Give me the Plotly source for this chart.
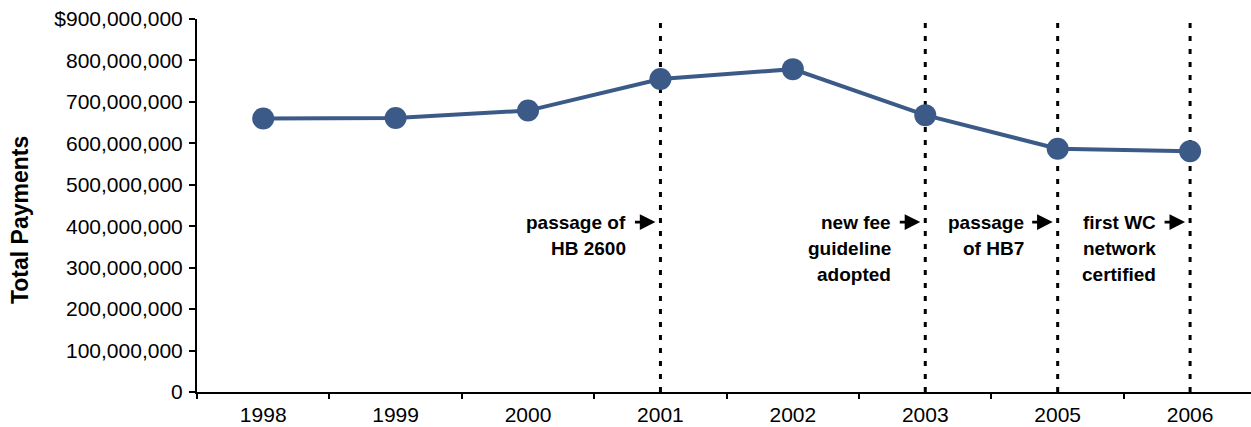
import plotly.graph_objects as go

# Annual totals
years = ["1998", "1999", "2000", "2001", "2002", "2003", "2005", "2006"]
payments = [660e6, 661e6, 679e6, 755e6, 779e6, 668e6, 587e6, 581e6]

# Y axis ticks
y_ticks = [0, 100e6, 200e6, 300e6, 400e6, 500e6, 600e6, 700e6, 800e6, 900e6]
y_tick_text = ["0", "100,000,000", "200,000,000", "300,000,000", "400,000,000",
               "500,000,000", "600,000,000", "700,000,000", "800,000,000",
               "$900,000,000"]

# Policy events marked with dotted lines
event_years = ["2001", "2003", "2005", "2006"]
event_labels = [
    ["passage of", "HB 2600"],
    ["new fee", "guideline", "adopted"],
    ["passage", "of HB7"],
    ["first WC", "network", "certified"],
]

LINE_COLOR = "#3C5A87"
LABEL_Y = 410e6

fig = go.Figure()
fig.add_trace(go.Scatter(
    x=years, y=payments, mode="lines+markers",
    line=dict(color=LINE_COLOR, width=4),
    marker=dict(color=LINE_COLOR, size=22),
    cliponaxis=False, hoverinfo="x+y",
))

for yr, lines in zip(event_years, event_labels):
    idx = years.index(yr)
    fig.add_shape(type="line", xref="x", yref="y", x0=idx, x1=idx,
                  y0=0, y1=900e6,
                  line=dict(color="black", width=3, dash="5px,8px"),
                  layer="below")
    fig.add_annotation(x=idx, y=LABEL_Y, xref="x", yref="y", text="",
                       showarrow=True, ax=-27, ay=0, axref="pixel", ayref="pixel",
                       arrowhead=2, arrowsize=1.2, arrowwidth=2.6,
                       arrowcolor="black", standoff=5)
    for i, txt in enumerate(lines):
        fig.add_annotation(x=idx, y=LABEL_Y, xref="x", yref="y", text=txt,
                           showarrow=False, xanchor="right", yanchor="middle",
                           xshift=-32, yshift=-26 * i,
                           font=dict(family="Liberation Sans", size=19,
                                     color="black", weight="bold"))

fig.add_annotation(xref="paper", yref="paper", x=0, y=0.461,
                   xshift=-177, text="<b>Total Payments</b>", textangle=-90,
                   showarrow=False, xanchor="center", yanchor="middle",
                   font=dict(family="Liberation Sans", size=23, color="black"))

fig.update_layout(
    width=1251, height=427,
    margin=dict(l=197, r=0, t=19, b=35),
    paper_bgcolor="white", plot_bgcolor="white",
    showlegend=False,
    font=dict(family="Liberation Sans", color="black"),
    xaxis=dict(type="category", categoryorder="array", categoryarray=years,
               range=[-0.5, 7.46], showline=True, linecolor="black",
               linewidth=2, ticks="outside", ticklen=5, tickwidth=1.5,
               tickcolor="black", tickson="boundaries", showgrid=False,
               zeroline=False, tickfont=dict(size=21), ticklabelstandoff=3,
               automargin=False),
    yaxis=dict(range=[0, 900e6], tickvals=y_ticks, ticktext=y_tick_text,
               showline=True, linecolor="black", linewidth=2,
               ticks="outside", ticklen=6, tickwidth=1.5, tickcolor="black",
               showgrid=False, zeroline=False, tickfont=dict(size=21),
               ticklabelstandoff=2, automargin=False),
)

fig.write_html("out.html")
